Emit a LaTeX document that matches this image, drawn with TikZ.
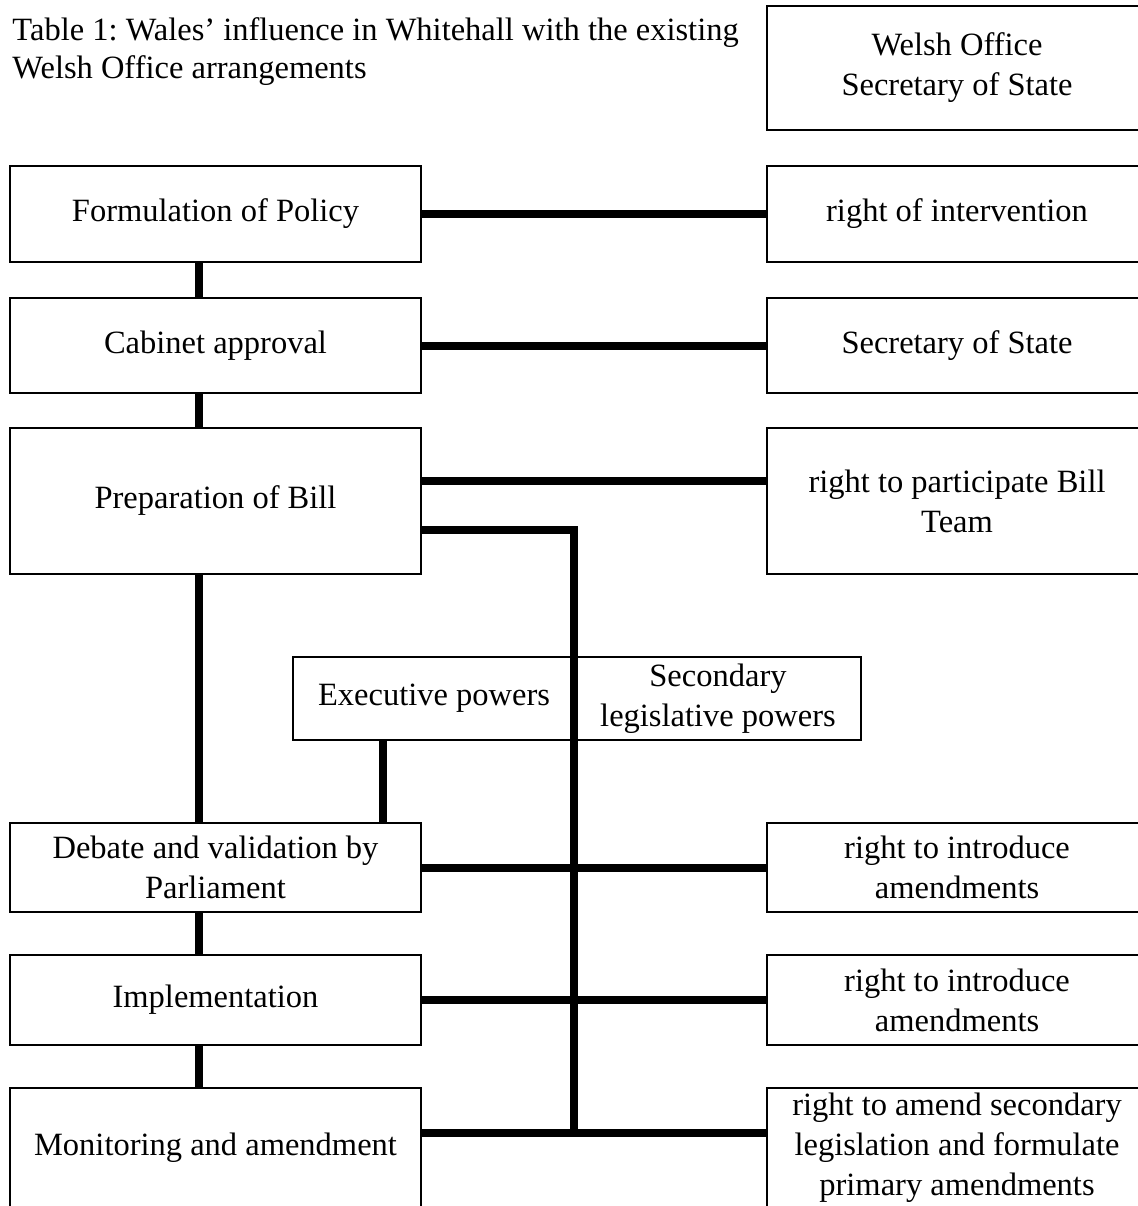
\documentclass[tikz,border=0pt]{standalone}
\usepackage{fontspec}
\setmainfont{Liberation Serif}
\usetikzlibrary{positioning}
\frenchspacing

\begin{document}
\begin{tikzpicture}[x=0.4pt,y=-0.4pt,
		stage/.style={rectangle,draw,line width=0.8pt,minimum width=164.4pt,align=center,inner sep=2pt},
		rightbox/.style={rectangle,draw,line width=0.8pt,minimum width=152pt,align=center,inner sep=2pt},
		power/.style={rectangle,draw,line width=0.5pt,minimum height=33.2pt,align=center,inner sep=2pt},
		link/.style={line width=3.2pt}]
		
		\useasboundingbox (0,0) rectangle (1138,1206);
		\clip (0,0) rectangle (1138,1206);
		\fontsize{13}{16}\selectfont
		
		\node[anchor=west,align=left,inner sep=0pt,font=\fontsize{13}{15.2}\selectfont] (T) at (12,52) {Table 1: Wales' influence in Whitehall with the existing\\Welsh Office arrangements};
		\node[rightbox,minimum height=49.6pt] (W) at (957,68) {Welsh Office\\Secretary of State};
		
		\node[stage,minimum height=38.4pt] (L0) at (215.5,214) {Formulation of Policy};
		\node[stage,minimum height=38pt,below=13.6pt of L0] (L1) {Cabinet approval};
		\node[stage,minimum height=58.4pt,below=13.2pt of L1] (L2) {Preparation of Bill};
		\node[stage,minimum height=35.6pt,below=98.8pt of L2] (L3) {Debate and validation by\\Parliament};
		\node[stage,minimum height=36pt,below=16.4pt of L3] (L4) {Implementation};
		\node[stage,minimum height=48pt,below=16.4pt of L4] (L5) {Monitoring and amendment};
		
		\node[rightbox,minimum height=38.4pt,right=137.6pt of L0] (R0) {right of intervention};
		\node[rightbox,minimum height=38pt,right=137.6pt of L1] (R1) {Secretary of State};
		\node[rightbox,minimum height=58.4pt,right=137.6pt of L2] (R2) {right to participate Bill\\Team};
		\node[rightbox,minimum height=35.6pt,right=137.6pt of L3] (R3) {right to introduce\\amendments};
		\node[rightbox,minimum height=36pt,right=137.6pt of L4] (R4) {right to introduce\\amendments};
		\node[rightbox,minimum height=48pt,right=137.6pt of L5] (R5) {right to amend secondary\\legislation and formulate\\primary amendments};
		
		\node[power,minimum width=112.8pt] (EP) at (434,698.5) {Executive powers};
		\node[power,minimum width=114.4pt,right=-0.5pt of EP] (SL) {Secondary\\legislative powers};
		
		% left column
		\draw[link] ([xshift=-6.6pt]L0.south) -- ([xshift=-6.6pt]L1.north);
		\draw[link] ([xshift=-6.6pt]L1.south) -- ([xshift=-6.6pt]L2.north);
		\draw[link] ([xshift=-6.6pt]L2.south) -- ([xshift=-6.6pt]L3.north);
		\draw[link] ([xshift=-6.6pt]L3.south) -- ([xshift=-6.6pt]L4.north);
		\draw[link] ([xshift=-6.6pt]L4.south) -- ([xshift=-6.6pt]L5.north);
		
		% across
		\draw[link] (L0) -- (R0);
		\draw[link] (L1) -- (R1);
		\draw[link] ([yshift=8pt]L2.east) -- ([yshift=8pt]R2.west);
		\draw[link] (L3) -- (R3);
		\draw[link] (L4) -- (R4);
		\draw[link] ([yshift=6pt]L5.east) coordinate (M) -- ([yshift=6pt]R5.west);
		
		% powers
		\draw[link] ([yshift=-11.6pt]L2.east) -| (SL.west |- M);
		\draw[link] ([xshift=-20.4pt]EP.south) -- ([xshift=-20.4pt]EP.south |- L3.north);
		
	\end{tikzpicture}
\end{document}
